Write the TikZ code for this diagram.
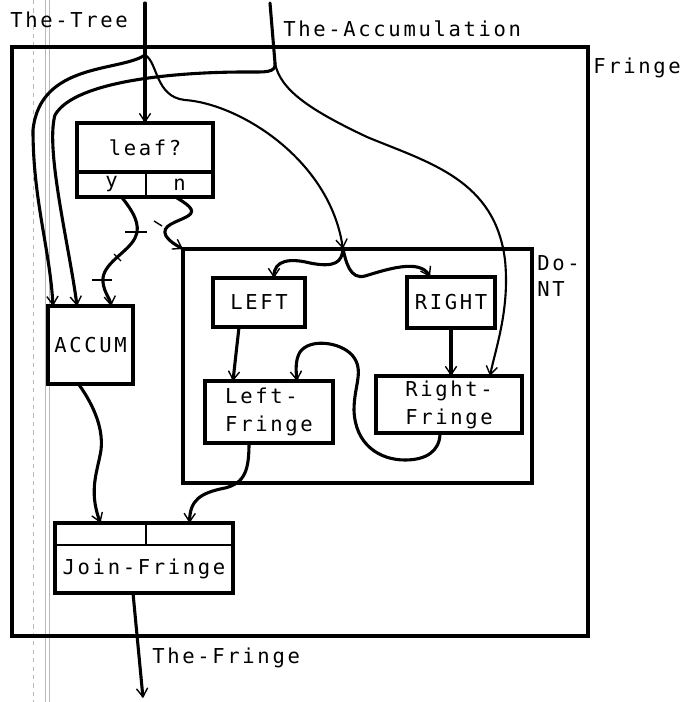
\documentclass[tikz,border=0pt]{standalone}
\usepackage{fontspec}
\newfontfamily\plotfont[LetterSpace=13]{DejaVu Sans Mono}
\newcommand{\diagfont}{\plotfont\fontsize{14.6}{20}\selectfont}
\usetikzlibrary{arrows.meta,positioning,calc}
\tikzset{
  wire/.style={draw=black,line width=2.2pt,line cap=round,line join=round},
  thinwire/.style={wire,line width=1.5pt},
  flow/.style={-{Straight Barb[length=6pt,width=8pt,line width=1pt]}},
  frame/.style={draw,line width=2.8pt,inner sep=0pt,outer sep=0pt},
  box/.style={draw,line width=2.4pt,inner sep=0pt,outer sep=0pt,font=\diagfont,align=left},
  cell/.style={box,line width=1.4pt},
  lbl/.style={font=\diagfont,inner sep=0pt,align=left},
  tick/.style={draw,line width=1pt},
  scanline/.style={draw=gray!55,line width=0.5pt}
}
\begin{document}
\begin{tikzpicture}[x=0.025cm,y=-0.025cm]
\useasboundingbox (0,0) rectangle (679,702);
% scanner streaks
\draw[scanline,dashed] (33,0) -- (33,702);
\draw[scanline] (45,0) -- (45,702);
\draw[scanline] (49,0) -- (49,702);

% frames
\node[frame,minimum width=14.4cm,minimum height=14.725cm] (fringe) at (300,341.5) {};
\node[frame,minimum width=8.725cm,minimum height=5.85cm] (dont) at (357.5,366) {};
\node[lbl,anchor=north west] (fringeName) at (593,58) {Fringe};
\node[lbl,anchor=north west] (dontName) at (537,255) {Do-\\[-1pt]NT};

% boxes
\node[box,minimum width=3.4cm,minimum height=1.225cm] (leaf) at (145,147.5) {leaf?};
\node[cell,anchor=north west,minimum width=1.725cm,minimum height=0.625cm] (leafY) at (leaf.south west) {y};
\node[cell,anchor=north east,minimum width=1.675cm,minimum height=0.625cm] (leafN) at (leaf.south east) {n};
\draw[box] (leaf.north west) rectangle (leafN.south east);
\node[box,minimum width=2.125cm,minimum height=1.95cm] (accum) at (90.5,345) {ACCUM};
\node[box,minimum width=2.3cm,minimum height=1.225cm] (left) at (259,302.5) {LEFT};
\node[box,minimum width=2.2cm,minimum height=1.275cm] (right) at (451,302.5) {RIGHT};
\node[box,minimum width=3.2cm,minimum height=1.55cm] (lfringe) at (269,412) {Left-\\Fringe};
\node[box,minimum width=3.65cm,minimum height=1.425cm] (rfringe) at (449,404.5) {Right-\\Fringe};
\node[cell,minimum width=4.45cm,minimum height=1.2cm] (join) at (144,569) {Join-Fringe};
\node[cell,anchor=south west,minimum width=2.275cm,minimum height=0.55cm] (joinA) at (join.north west) {};
\node[cell,anchor=south east,minimum width=2.175cm,minimum height=0.55cm] (joinB) at (join.north east) {};
\draw[box] (joinA.north west) rectangle (join.south east);

% outside wires
\coordinate (treeIn) at (145,3);
\coordinate (treeFork) at (145,55);
\coordinate (accIn) at (270,3);
\coordinate (accFork) at (275,63);
\coordinate (outEnd) at (143,698);
\coordinate (dontIn) at ($(dont.north west)+(160,0)$);
\node[lbl,anchor=base west] (treeName) at (10,28) {The-Tree};
\node[lbl,anchor=base west] (accName) at (283,37) {The-Accumulation};
\node[lbl,anchor=base west] (outName) at (152,663) {The-Fringe};

\draw[wire,flow] (treeIn) -- (leaf.north);
\draw[wire,flow] (treeFork) .. controls (120,72) and (40,62) .. (33,130)
  .. controls (33,200) and (50,250) .. ($(accum.north west)+(5,0)$);
\draw[thinwire,flow] (treeFork) .. controls (158,62) and (155,97) .. (185,100)
  .. controls (240,104) and (330,160) .. (dontIn);
\draw[wire] (accIn) -- (accFork);
\draw[wire,flow] (accFork) .. controls (276,73) and (266,72) .. (245,72)
  .. controls (180,72) and (75,80) .. (55,115)
  .. controls (45,150) and (70,250) .. ($(accum.north west)+(29,0)$);
\draw[thinwire,flow] (accFork) .. controls (280,90) and (310,110) .. (367,137)
  .. controls (430,163) and (495,180) .. (505,260)
  .. controls (510,310) and (495,350) .. ($(rfringe.north east)+(-32,0)$);

% leaf? outputs
\draw[wire,flow] ($(leafY.south)+(10,0)$) .. controls (132,210) and (142,225) .. (135,238)
  .. controls (128,252) and (105,262) .. (103,278)
  .. controls (102,290) and (110,298) .. ($(accum.north east)+(-22,0)$);
\draw[tick] (125,232) -- (147,232);
\draw[tick] (114,254) -- (121,261);
\draw[tick] (92,280) -- (112,280);
\draw[wire,flow] ($(leafN.south)+(-4,0)$) .. controls (185,203) and (198,210) .. (188,216)
  .. controls (178,222) and (160,225) .. (166,236)
  .. controls (170,242) and (176,245) .. (dont.north west);
\draw[tick] (154,221) -- (162,226);

% inside Do-NT
\draw[wire,flow] (dontIn) .. controls (342,262) and (335,268) .. (310,263)
  .. controls (290,258) and (274,260) .. ($(left.north)+(15,0)$);
\draw[wire,flow] (dontIn) .. controls (346,262) and (350,280) .. (365,276)
  .. controls (385,270) and (420,258) .. ($(right.north west)+(23,0)$);
\draw[wire,flow] ($(left.south)+(-20,0)$) -- ($(lfringe.north west)+(28,0)$);
\draw[wire,flow] (right.south) -- (right.south |- rfringe.north);
\draw[wire,flow] ($(rfringe.south)+(-9,0)$) .. controls (440,452) and (425,460) .. (405,460)
  .. controls (380,460) and (355,445) .. (354,410)
  .. controls (354,385) and (365,370) .. (352,355)
  .. controls (340,342) and (310,338) .. (300,352)
  .. controls (295,360) and (296,372) .. ($(lfringe.north east)+(-36,0)$);

% into Join-Fringe and out
\draw[wire,flow] ($(lfringe.south)+(-20,0)$) .. controls (249,470) and (245,483) .. (225,488)
  .. controls (200,493) and (190,500) .. (joinB.north);
\draw[wire,flow] ($(accum.south)+(-12,0)$) .. controls (90,400) and (104,425) .. (101,450)
  .. controls (98,470) and (88,490) .. (joinA.north);
\draw[wire,flow] ($(join.south)+(-11,0)$) -- (outEnd);
\end{tikzpicture}
\end{document}
